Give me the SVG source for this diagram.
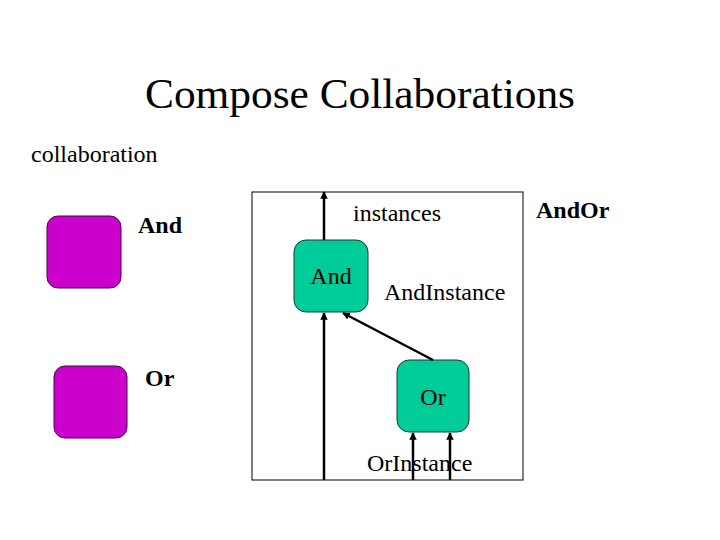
<svg xmlns="http://www.w3.org/2000/svg" width="720" height="540" viewBox="0 0 720 540">
<defs>
<style>
.t24 { font-family: 'Liberation Serif', serif; font-size: 24px; fill: #000; }
.b { font-weight: bold; }
.purple { fill: #CC00CC; stroke: #4a004a; stroke-width: 1; }
.green { fill: #00CC99; stroke: #1a3a30; stroke-width: 1; }
.conn line { stroke: #000; stroke-width: 2.5; marker-end: url(#ah); }
</style>
<marker id="ah" viewBox="0 0 10 10" refX="9" refY="5" markerWidth="3" markerHeight="3" orient="auto" markerUnits="strokeWidth">
<path d="M0,0 L10,5 L0,10 z" fill="#000"/>
</marker>
</defs>
<rect width="720" height="540" fill="#fff"/>
<text x="360" y="108" font-family="'Liberation Serif', serif" text-anchor="middle" font-size="43" textLength="430" lengthAdjust="spacingAndGlyphs">Compose Collaborations</text>
<text x="31" y="162" class="t24" font-family="'Liberation Serif', serif">collaboration</text>
<rect id="frame" x="252" y="192" width="271" height="288" fill="none" stroke="#000" stroke-width="1"/>
<g id="and-collab">
<rect x="47" y="216" width="74" height="72" rx="11" class="purple"/>
<text x="138" y="233" class="t24 b" font-family="'Liberation Serif', serif">And</text>
</g>
<g id="or-collab">
<rect x="54" y="366" width="73" height="72" rx="11" class="purple"/>
<text x="145" y="386" class="t24 b" font-family="'Liberation Serif', serif">Or</text>
</g>
<text id="andor" x="536" y="218" class="t24 b" font-family="'Liberation Serif', serif">AndOr</text>
<text x="353" y="221" class="t24" font-family="'Liberation Serif', serif">instances</text>
<g id="and-instance">
<rect x="294" y="240" width="74" height="72" rx="12" class="green"/>
<text x="331" y="284" class="t24" text-anchor="middle" font-family="'Liberation Serif', serif">And</text>
</g>
<text x="384" y="300" class="t24" font-family="'Liberation Serif', serif">AndInstance</text>
<g id="or-instance">
<rect x="397" y="360" width="72" height="72" rx="12" class="green"/>
<text x="433" y="405" class="t24" text-anchor="middle" font-family="'Liberation Serif', serif">Or</text>
</g>
<text x="367" y="471" class="t24" font-family="'Liberation Serif', serif">OrInstance</text>
<g class="conn" id="connectors">
<line x1="324" y1="240" x2="324" y2="192"/>
<line x1="324" y1="480" x2="324" y2="313"/>
<line x1="433" y1="360" x2="343" y2="313"/>
<line x1="413" y1="480" x2="413" y2="433"/>
<line x1="450" y1="480" x2="450" y2="433"/>
</g>
</svg>
